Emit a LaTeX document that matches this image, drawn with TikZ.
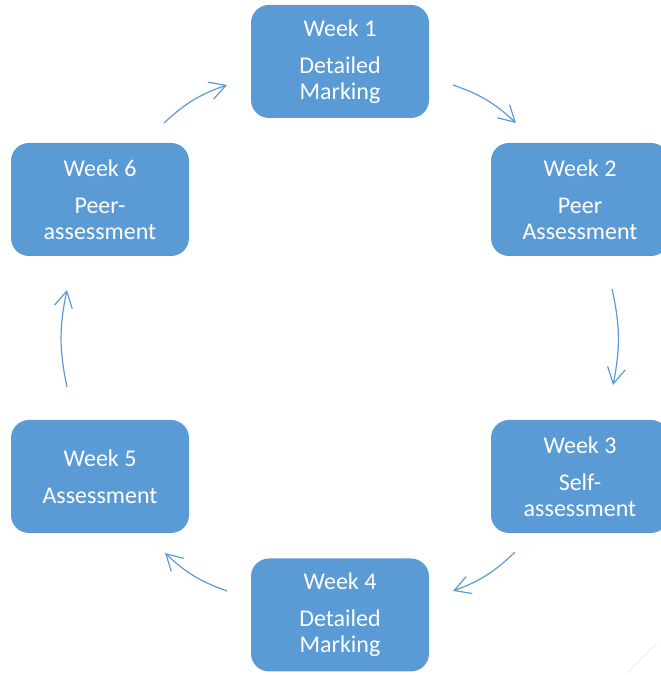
\documentclass[tikz,border=0pt]{standalone}
\usepackage{fontspec}
\setmainfont{Carlito}
\usetikzlibrary{arrows.meta}
\definecolor{boxblue}{HTML}{5B9BD5}
\tikzset{
  weekbox/.style={fill=boxblue, draw=none, rounded corners=18pt,
    minimum width=178pt, minimum height=113pt, align=center,
    text=white, font=\fontsize{24}{26}\selectfont, inner sep=0pt},
  cyclearrow/.style={draw=boxblue, line width=1.2pt,
    -{Straight Barb[length=16pt, width=18pt, line width=1.2pt]}, bend left=12}
}
\begin{document}
\begin{tikzpicture}[x=1pt, y=1pt]
\useasboundingbox (0,0) rectangle (661,675);
\clip (0,0) rectangle (661,675);
\node[weekbox] (w1) at (340,613.5) {Week 1\\[11pt]Detailed\\Marking};
\node[weekbox] (w2) at (580,475.5) {Week 2\\[11pt]Peer\\Assessment};
\node[weekbox] (w3) at (580,198.5) {Week 3\\[11pt]Self-\\assessment};
\node[weekbox] (w4) at (340,60) {Week 4\\[11pt]Detailed\\Marking};
\node[weekbox] (w5) at (100,198.5) {Week 5\\[11pt]Assessment};
\node[weekbox] (w6) at (100,475.5) {Week 6\\[11pt]Peer-\\assessment};
\coordinate (a1s) at (453,590); \coordinate (a1e) at (516,552);
\coordinate (a2s) at (612,386); \coordinate (a2e) at (613,290);
\coordinate (a3s) at (515,123); \coordinate (a3e) at (453,84);
\coordinate (a4s) at (227,84);  \coordinate (a4e) at (165,122);
\coordinate (a5s) at (67,288);  \coordinate (a5e) at (67,385);
\coordinate (a6s) at (164,552); \coordinate (a6e) at (227,590);
\draw[cyclearrow] (a1s) to (a1e);
\draw[cyclearrow] (a2s) to (a2e);
\draw[cyclearrow] (a3s) to (a3e);
\draw[cyclearrow] (a4s) to (a4e);
\draw[cyclearrow] (a5s) to (a5e);
\draw[cyclearrow] (a6s) to (a6e);
\coordinate (c1) at (627,2); \coordinate (c2) at (657,32);
\draw[gray!20, line width=0.6pt] (c1) -- (c2);
\end{tikzpicture}
\end{document}
